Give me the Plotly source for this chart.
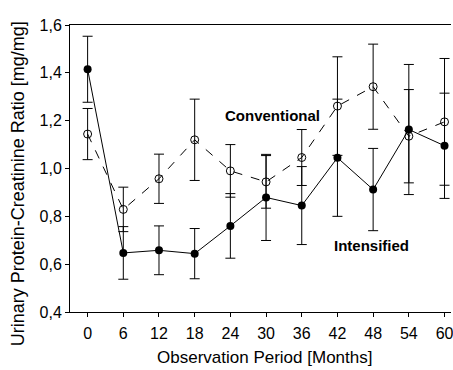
import plotly.graph_objects as go

months = [0, 6, 12, 18, 24, 30, 36, 42, 48, 54, 60]
intensified = [1.415, 0.647, 0.658, 0.644, 0.760, 0.879, 0.845, 1.045, 0.912, 1.163, 1.095]
intensified_err = [0.138, 0.110, 0.102, 0.105, 0.135, 0.180, 0.163, 0.245, 0.172, 0.272, 0.220]
conventional = [1.144, 0.829, 0.957, 1.120, 0.990, 0.944, 1.046, 1.261, 1.342, 1.135, 1.195]
conventional_err = [0.107, 0.093, 0.103, 0.170, 0.110, 0.110, 0.117, 0.206, 0.178, 0.195, 0.265]

FONT = "Liberation Sans, Arial, sans-serif"
W, H = 453, 370

fig = go.Figure()
fig.add_trace(go.Scatter(
    x=months, y=conventional, mode="lines+markers", name="Conventional",
    line=dict(color="black", width=1, dash="dash"),
    marker=dict(symbol="circle-open", size=8, color="black", line=dict(width=1, color="black")),
    error_y=dict(type="data", array=conventional_err, visible=True, color="black", thickness=1, width=5),
))
fig.add_trace(go.Scatter(
    x=months, y=intensified, mode="lines+markers", name="Intensified",
    line=dict(color="black", width=1),
    marker=dict(symbol="circle", size=8, color="black"),
    error_y=dict(type="data", array=intensified_err, visible=True, color="black", thickness=1, width=5),
))

fig.add_annotation(x=31.0, y=1.223, text="<b>Conventional</b>", showarrow=False,
                   font=dict(family=FONT, size=15, color="black"))
fig.add_annotation(x=47.8, y=0.679, text="<b>Intensified</b>", showarrow=False,
                   font=dict(family=FONT, size=15, color="black"))

# axis titles as paper-positioned annotations
fig.add_annotation(xref="paper", yref="paper", x=(266 - 70) / (W - 70), y=-(357.5 - 312) / (312 - 25),
                   text="Observation Period [Months]", showarrow=False,
                   xanchor="center", yanchor="middle",
                   font=dict(family=FONT, size=17, color="black"))
fig.add_annotation(xref="paper", yref="paper", x=-(70 - 18) / (W - 70), y=(312 - 184) / (312 - 25),
                   text="Urinary Protein-Creatinine Ratio [mg/mg]", showarrow=False, textangle=-90,
                   xanchor="center", yanchor="middle",
                   font=dict(family=FONT, size=18, color="black"))

fig.update_layout(
    width=W, height=H,
    margin=dict(l=70, r=0, t=25, b=58),
    paper_bgcolor="white", plot_bgcolor="white",
    showlegend=False,
    separators=",.",
    font=dict(family=FONT, size=16, color="black"),
    xaxis=dict(
        range=[-2.96, 61.09], tickvals=months, ticks="outside", ticklen=4,
        tickwidth=1, tickcolor="black", showline=True, linecolor="black", linewidth=1,
        mirror=True, showgrid=False, zeroline=False, ticklabeloverflow="allow",
        ticklabelstandoff=3,
        tickfont=dict(size=16),
    ),
    yaxis=dict(
        range=[0.4, 1.6], dtick=0.2, tick0=0.4, tickformat=".1f", ticks="outside", ticklen=4,
        tickwidth=1, tickcolor="black", showline=True, linecolor="black", linewidth=1,
        showgrid=False, zeroline=False,
        tickfont=dict(size=16),
    ),
)

fig.write_html("out.html")
